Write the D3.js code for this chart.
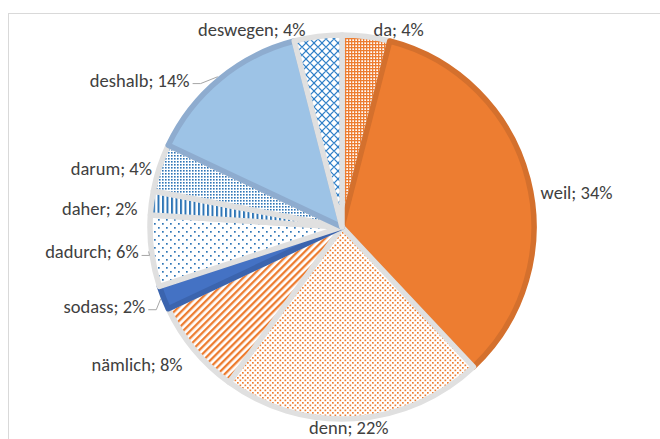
<!DOCTYPE html>
<html>
<head>
<meta charset="utf-8">
<script src="https://cdn.jsdelivr.net/npm/d3@7"></script>
<style>
  body { margin: 0; background: #fff; }
  svg text { font-family: Carlito, Calibri, Lato, "Open Sans", sans-serif; fill: #404040; }
</style>
</head>
<body>
<div id="chart"></div>
<script>
// data
var categories = ["da", "weil", "denn", "nämlich", "sodass", "dadurch", "daher", "darum", "deshalb", "deswegen"];
var values = [4, 34, 22, 8, 2, 6, 2, 4, 14, 4];
var leaderLabels = ["sodass", "dadurch", "deshalb"];

// layout
var width = 660, height = 439;
var cx = 342, cy = 227, radius = 192;
var orange = "#ED7D31", blue = "#2E75B6", gray = "#E0E0E0";

// fill + border for each slice (Excel style patterns)
var sliceStyle = {
	"da":       {fill: "url(#p-da)",       stroke: gray},
	"weil":     {fill: orange,             stroke: "#D4702D"},
	"denn":     {fill: "url(#p-denn)",     stroke: gray},
	"nämlich":  {fill: "url(#p-naemlich)", stroke: gray},
	"sodass":   {fill: "#4472C4",          stroke: "#3B64AE"},
	"dadurch":  {fill: "url(#p-dadurch)",  stroke: gray},
	"daher":    {fill: "url(#p-daher)",    stroke: gray},
	"darum":    {fill: "url(#p-darum)",    stroke: gray},
	"deshalb":  {fill: "#9DC3E6",          stroke: "#8EACCF"},
	"deswegen": {fill: "url(#p-deswegen)", stroke: gray}
};

// label nudges (Excel's best-fit moves some labels)
var labelNudge = {
	"da": [6, 4], "weil": [2, 16], "denn": [-6, -2], "nämlich": [-3, 9], "sodass": [-8, 5],
	"dadurch": [-2, 0], "daher": [-3, 7], "darum": [3, 5], "deshalb": [-23, 10], "deswegen": [-11, 4]
};

var data = categories.map(function(c, i) { return {name: c, value: values[i]}; });

var svg = d3.select("#chart").append("svg")
	.attr("width", width)
	.attr("height", height);

svg.append("rect").attr("width", width).attr("height", height).attr("fill", "#fff");
// chart frame
svg.append("rect")
	.attr("x", 8.5).attr("y", 13.5)
	.attr("width", width + 20).attr("height", height + 20)
	.attr("fill", "none").attr("stroke", "#D9D9D9");

var defs = svg.append("defs");
function pattern(id, w, h, transform) {
	var p = defs.append("pattern").attr("id", id)
		.attr("patternUnits", "userSpaceOnUse")
		.attr("width", w).attr("height", h);
	if (transform) p.attr("patternTransform", transform);
	p.append("rect").attr("width", w).attr("height", h).attr("fill", "#fff");
	return p;
}
// da: small orange grid
var pda = pattern("p-da", 3, 3);
pda.append("rect").attr("width", 3).attr("height", 1.3).attr("fill", orange);
pda.append("rect").attr("width", 1.3).attr("height", 3).attr("fill", orange);
// denn: orange dots
var pdenn = pattern("p-denn", 5, 5);
pdenn.append("rect").attr("width", 1.7).attr("height", 1.7).attr("fill", orange);
pdenn.append("rect").attr("x", 2.5).attr("y", 2.5).attr("width", 1.7).attr("height", 1.7).attr("fill", orange);
// nämlich: wide upward diagonal
var pn = pattern("p-naemlich", 5, 5, "rotate(45)");
pn.append("rect").attr("width", 2.3).attr("height", 5).attr("fill", orange);
// dadurch: sparse blue dots
var pdd = pattern("p-dadurch", 8, 8);
pdd.append("rect").attr("width", 1.7).attr("height", 1.7).attr("fill", blue);
pdd.append("rect").attr("x", 4).attr("y", 4).attr("width", 1.7).attr("height", 1.7).attr("fill", blue);
// daher: vertical lines
var pdh = pattern("p-daher", 4.5, 5);
pdh.append("rect").attr("width", 2).attr("height", 5).attr("fill", blue);
// darum: dense dotted grid
var pdr = pattern("p-darum", 3, 3);
pdr.append("rect").attr("width", 1.6).attr("height", 1.6).attr("fill", blue);
// deswegen: outlined diamonds
var pdw = pattern("p-deswegen", 8, 8);
pdw.append("path").attr("d", "M0,4L4,0L8,4L4,8Z").attr("fill", "none")
	.attr("stroke", "#2F80C8").attr("stroke-width", 1.2);

var pie = d3.pie().sort(null).value(function(d) { return d.value; });
var arc = d3.arc().innerRadius(0).outerRadius(radius);
var arcs = pie(data);

var g = svg.append("g").attr("transform", "translate(" + cx + "," + cy + ")");

g.selectAll("path.slice")
	.data(arcs)
	.enter()
	.append("path")
	.attr("class", "slice")
	.attr("d", arc)
	.attr("fill", function(d) { return sliceStyle[d.data.name].fill; })
	.attr("stroke", function(d) { return sliceStyle[d.data.name].stroke; })
	.attr("stroke-width", 5.5)
	.attr("stroke-linejoin", "round");

// labels
var labelR = radius + 11;
function mid(d) { return (d.startAngle + d.endAngle) / 2; }

arcs.forEach(function(d) {
	var a = mid(d), s = Math.sin(a), c = Math.cos(a);
	var nudge = labelNudge[d.data.name];
	var x = labelR * s + nudge[0];
	var y = -labelR * c + 6 + nudge[1];
	var anchor = Math.abs(s) < 0.1 ? "middle" : (s > 0 ? "start" : "end");
	g.append("text")
		.attr("x", x).attr("y", y)
		.attr("text-anchor", anchor)
		.style("font-size", "18.5px")
		.text(d.data.name + "; " + d.data.value + "%");

	if (leaderLabels.indexOf(d.data.name) >= 0) {
		var ex = (radius + 3) * s, ey = -(radius + 3) * c;
		var lx = x + 3, ly = y - 3;
		g.append("path")
			.attr("d", "M" + lx + "," + ly + "H" + (lx + 8) + "L" + ex + "," + ey)
			.attr("fill", "none")
			.attr("stroke", "#A6A6A6")
			.attr("stroke-width", 1);
	}
});
</script>
</body>
</html>
